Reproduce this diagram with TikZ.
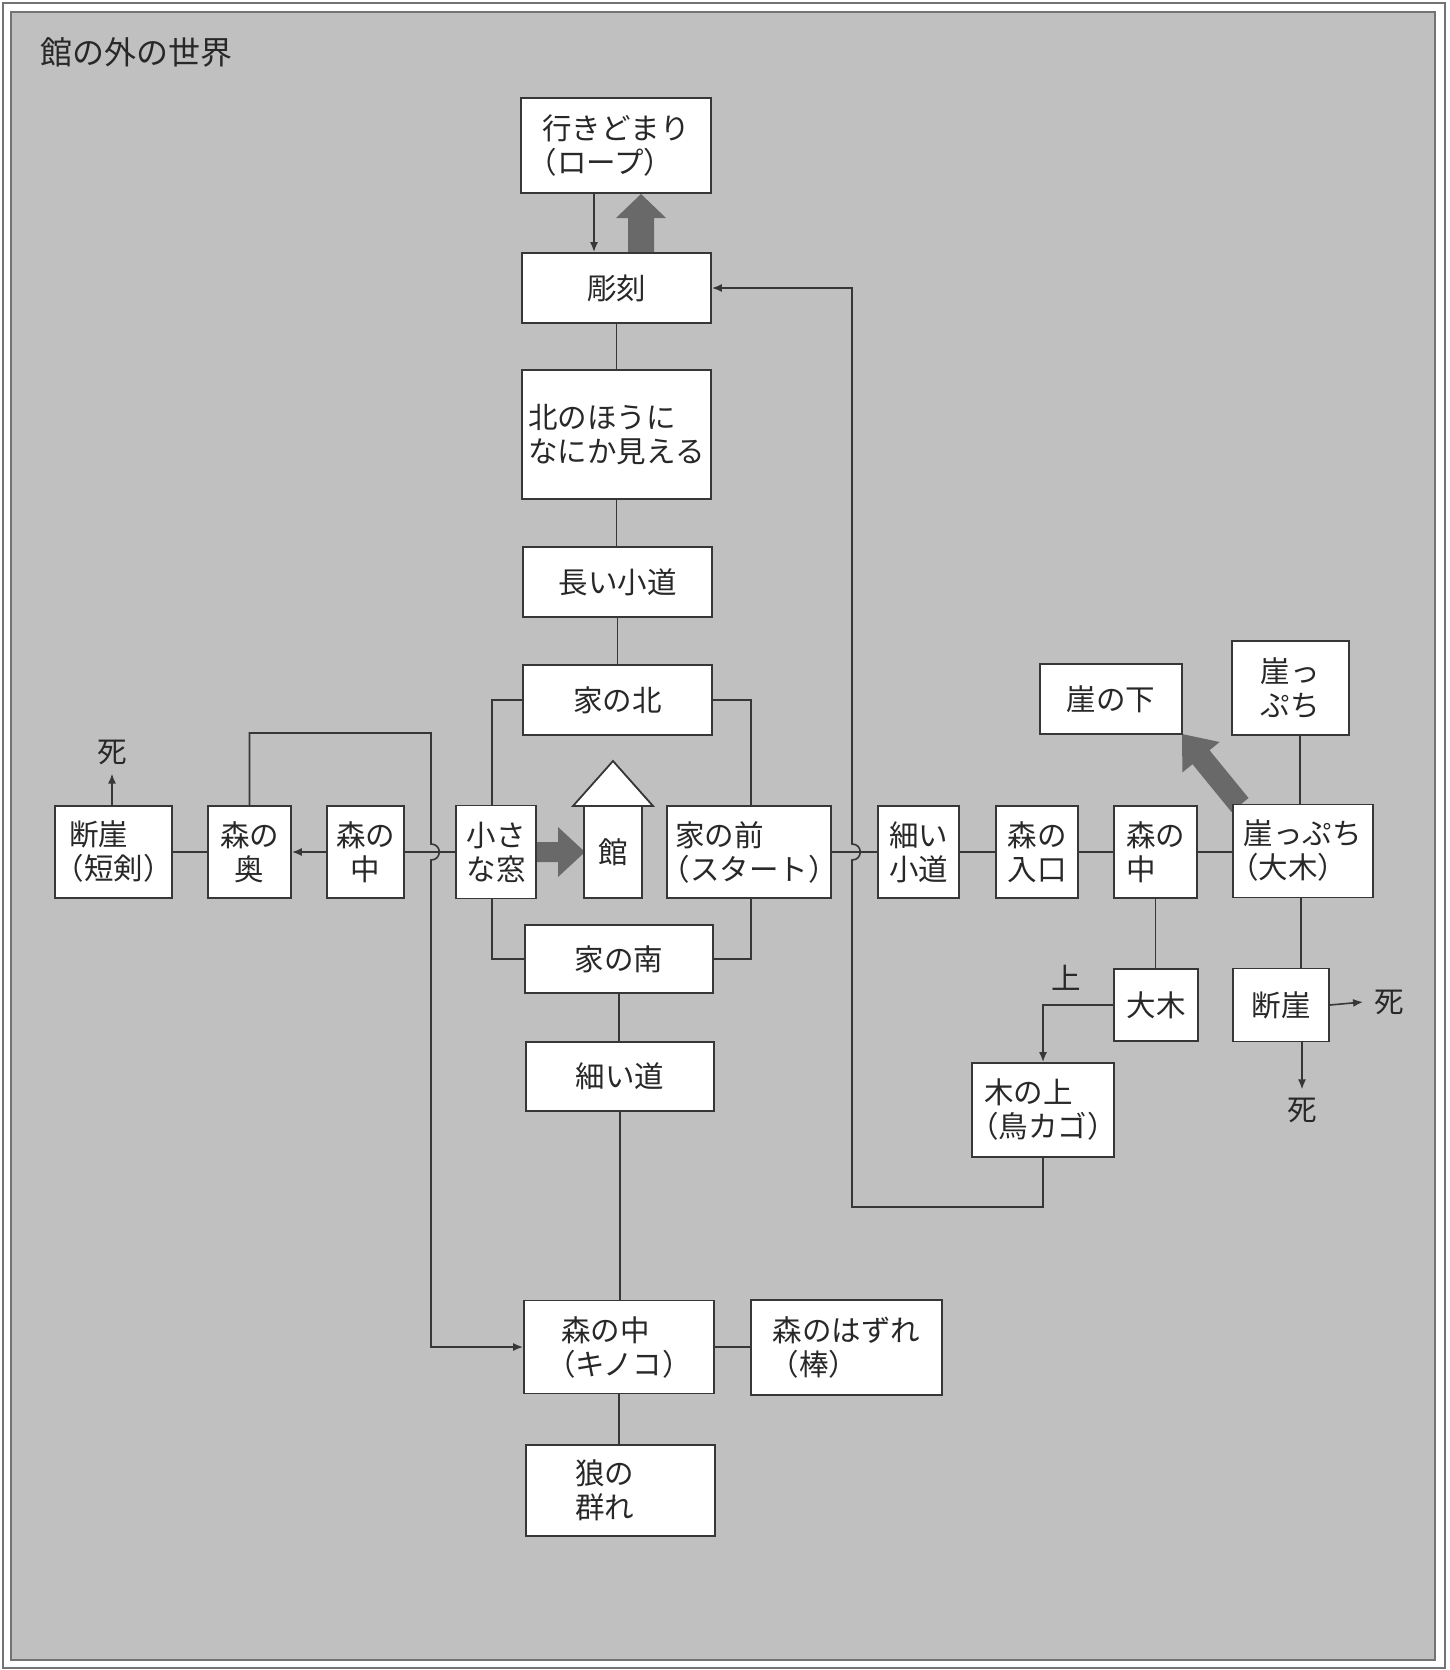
\documentclass[tikz,border=0pt]{standalone}
\usepackage{fontspec}
\setmainfont{Noto Sans CJK JP}[RawFeature=+halt]
\usetikzlibrary{arrows.meta,calc}
\definecolor{bggray}{RGB}{192,192,192}
\definecolor{linec}{RGB}{55,55,55}
\definecolor{thickc}{RGB}{105,105,105}
\definecolor{framec}{RGB}{115,115,115}
\definecolor{textc}{RGB}{40,40,40}
\begin{document}
\begin{tikzpicture}[x=1pt,y=-1pt,
  room/.style={draw=linec, fill=white, line width=1.8pt, inner sep=0pt, align=left,
    font=\fontsize{29.5}{34}\selectfont, text=textc},
  conn/.style={draw=linec, line width=1.6pt},
  arr/.style={conn, -{Latex[length=10pt,width=8pt]}},
  lbl/.style={font=\fontsize{29.5}{34}\selectfont, text=textc, inner sep=0pt},
  bigarrow/.style={fill=thickc}]
\useasboundingbox (0,0) rectangle (1450,1670);
% frames
\fill[white] (0,0) rectangle (1450,1670);
\draw[framec, line width=1.5pt] (3,3) rectangle (1445,1668);
\draw[framec, line width=2pt, fill=bggray] (11,12) rectangle (1435,1660);
\node[lbl, anchor=west, font=\fontsize{32}{36}\selectfont] (title) at (40,52) {館の外の世界};

% block arrows (drawn before boxes)
\fill[bigarrow] (628,253) -- (628,218) -- (616,218) -- (641,194) -- (666,218) -- (654,218) -- (654,253) -- cycle;
\fill[bigarrow] (537,842) -- (558,842) -- (558,827) -- (585,852) -- (558,877) -- (558,862) -- (537,862) -- cycle;
\fill[bigarrow] (1231.5,812) -- (1192.5,764.2) -- (1182.4,772.4) -- (1182,734) -- (1219.6,742) -- (1209.5,750.2) -- (1248.5,798) -- cycle;

% house roof
\draw[draw=linec, fill=white, line width=1.8pt, line join=miter] (573,806) -- (613,761) -- (653,806) -- cycle;

% central column
\node[room, minimum width=190pt, minimum height=95pt] (ikidomari) at (616,145.5) {行きどまり\\（ロープ）};
\node[room, minimum width=189pt, minimum height=70pt, align=center] (choukoku) at (616.5,288) {彫刻};
\node[room, minimum width=189pt, minimum height=129pt] (kita) at (616.5,434.5) {北のほうに\\なにか見える};
\node[room, minimum width=189pt, minimum height=70pt] (nagai) at (617.5,582) {長い小道};
\node[room, minimum width=189pt, minimum height=70pt] (ienokita) at (617.5,700) {家の北};
\node[room, minimum width=80pt, minimum height=93pt] (mado) at (496,852) {小さ\\な窓};
\node[room, minimum width=58pt, minimum height=92pt] (yakata) at (613,852) {館};
\node[room, minimum width=164pt, minimum height=92pt] (ienomae) at (749,852) {家の前\\（スタート）};
\node[room, minimum width=188pt, minimum height=68pt] (ienominami) at (619,959) {家の南};
\node[room, minimum width=188pt, minimum height=69pt] (hosoimichi) at (620,1076.5) {細い道};
\node[room, minimum width=190pt, minimum height=93pt] (kinoko) at (619,1347) {森の中\\（キノコ）};
\node[room, minimum width=191pt, minimum height=95pt] (hazure) at (846.5,1347.5) {森のはずれ\\\hspace{0.4em}（棒）};
\node[room, text width=91pt, inner xsep=49pt, minimum height=91pt] (ookami) at (620.5,1490.5) {狼の\\群れ};

% left side
\node[room, minimum width=117pt, minimum height=92pt] (dangaiL) at (113.5,852) {断崖\\（短剣）};
\node[room, minimum width=83pt, minimum height=92pt, align=center] (mokuoku) at (249.5,852) {森の\\奥};
\node[room, minimum width=77pt, minimum height=92pt, align=center] (morinakaL) at (365.5,852) {森の\\中};
\node[lbl] (shiA) at (112,752) {死};

% right side
\node[room, minimum width=81pt, minimum height=92pt] (hosoikomichi) at (918.5,852) {細い\\小道};
\node[room, minimum width=82pt, minimum height=92pt] (iriguchi) at (1037,852) {森の\\入口};
\node[room, minimum width=83pt, minimum height=92pt] (morinakaR) at (1155.5,852) {森の\\中};
\node[room, minimum width=140pt, minimum height=93pt] (gaketaiboku) at (1303,851) {崖っぷち\\（大木）};
\node[room, minimum width=142pt, minimum height=70pt] (gakeshita) at (1111,699) {崖の下};
\node[room, minimum width=117pt, minimum height=94pt] (gaketop) at (1290.5,688) {崖っ\\ぷち};
\node[room, minimum width=84pt, minimum height=72pt] (taiboku) at (1156,1005) {大木};
\node[room, minimum width=96pt, minimum height=73pt] (dangaiR) at (1281,1005) {断崖};
\node[room, minimum width=142pt, minimum height=94pt] (kinoue) at (1043,1110) {木の上\\（鳥カゴ）};
\node[lbl] (shiB) at (1389,1002) {死};
\node[lbl] (shiC) at (1302,1110) {死};
\node[lbl] (ue) at (1066,978) {上};

% central connectors
\draw[arr] (594,0 |- ikidomari.south) -- (594,0 |- choukoku.north);
\draw[conn] (choukoku.south) -- (choukoku.south |- kita.north);
\draw[conn] (kita.south) -- (kita.south |- nagai.north);
\draw[conn] (nagai.south) -- (nagai.south |- ienokita.north);
\draw[conn] (ienokita.west) -| (492,0 |- mado.north);
\draw[conn] (ienokita.east) -| (751,0 |- ienomae.north);
\draw[conn] (492,0 |- mado.south) |- (ienominami.west);
\draw[conn] (751,0 |- ienomae.south) |- (ienominami.east);
\draw[conn] (ienominami.south) -- (ienominami.south |- hosoimichi.north);
\draw[conn] (hosoimichi.south) -- (hosoimichi.south |- kinoko.north);
\draw[conn] (kinoko.south) -- (kinoko.south |- ookami.north);
\draw[conn] (kinoko.east) -- (kinoko.east -| hazure.west);

% left connectors
\draw[conn] (dangaiL.east) -- (dangaiL.east -| mokuoku.west);
\draw[arr] (morinakaL.west) -- (morinakaL.west -| mokuoku.east);
\draw[conn] (morinakaL.east) -- (morinakaL.east -| mado.west);
\draw[arr] (dangaiL.north -| shiA) -- ($(shiA.south)+(0,9)$);
\draw[arr] (mokuoku.north) |- (431,733) -- (431,844)
  .. controls (442,844) and (442,860) .. (431,860) |- (kinoko.west);

% right connectors
\draw[conn] (ienomae.east) -- (ienomae.east -| hosoikomichi.west);
\draw[conn] (hosoikomichi.east) -- (hosoikomichi.east -| iriguchi.west);
\draw[conn] (iriguchi.east) -- (iriguchi.east -| morinakaR.west);
\draw[conn] (morinakaR.east) -- (morinakaR.east -| gaketaiboku.west);
\draw[conn] (1300,0 |- gaketop.south) -- (1300,0 |- gaketaiboku.north);
\draw[conn] (1301,0 |- gaketaiboku.south) -- (1301,0 |- dangaiR.north);
\draw[conn] (morinakaR.south) -- (morinakaR.south |- taiboku.north);
\draw[arr] (taiboku.west) -| (kinoue.north);
\draw[arr] (dangaiR.east) -- ($(shiB.west)+(-11,0)$);
\draw[arr] (dangaiR.south -| shiC) -- ($(shiC.north)+(0,-8)$);
\draw[arr] (kinoue.south) -- (1043,1207) -- (852,1207) -- (852,860)
  .. controls (863,860) and (863,844) .. (852,844) |- (choukoku.east);
\end{tikzpicture}
\end{document}
